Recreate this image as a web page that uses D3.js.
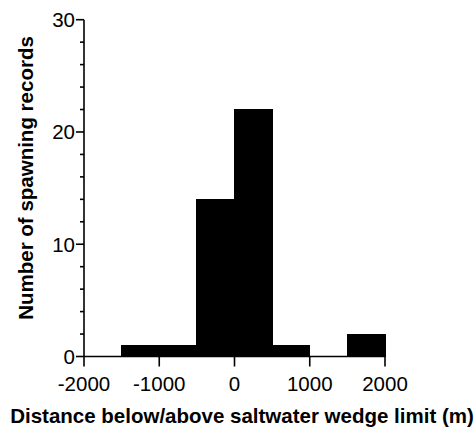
<!DOCTYPE html>
<html><head><meta charset="utf-8">
<script src="https://cdn.jsdelivr.net/npm/d3@7"></script>
<style>body{margin:0;background:#fff}svg{display:block}text{font-family:"Liberation Sans",Arial,sans-serif}</style>
</head><body>
<script>
const binStarts = [-1500, -1000, -500, 0, 500, 1000, 1500];
const binWidth = 500;
const counts = [1, 1, 14, 22, 1, 0, 2];
const xTicks = [-2000, -1000, 0, 1000, 2000];
const yMajor = [0, 10, 20, 30];
const yMinor = [2, 4, 6, 8, 12, 14, 16, 18, 22, 24, 26, 28];
const xTitle = "Distance below/above saltwater wedge limit (m)";
const yTitle = "Number of spawning records";

const W = 475, H = 428;
const svg = d3.select("body").append("svg").attr("width", W).attr("height", H);
const x = d3.scaleLinear().domain([-2000, 2000]).range([84, 385]);
const y = d3.scaleLinear().domain([0, 30]).range([356.5, 19.7]);

svg.append("g").attr("shape-rendering", "crispEdges").selectAll("rect").data(binStarts).join("rect")
  .attr("x", d => x(d)).attr("width", d => x(d + binWidth) - x(d))
  .attr("y", (d, i) => y(counts[i])).attr("height", (d, i) => y(0) - y(counts[i]))
  .attr("fill", "#000").attr("stroke", (d, i) => counts[i] > 0 ? "#000" : "none").attr("stroke-width", 1);

const ax = svg.append("g").attr("stroke", "#000").attr("stroke-width", 1.6).attr("fill", "none");
ax.append("line").attr("x1", x(-2000)).attr("x2", x(2000)).attr("y1", y(0)).attr("y2", y(0));
ax.append("line").attr("x1", x(-2000)).attr("x2", x(-2000)).attr("y1", y(0)).attr("y2", y(30));
ax.selectAll(".xt").data(xTicks).join("line").attr("x1", d => x(d)).attr("x2", d => x(d)).attr("y1", y(0)).attr("y2", y(0) + 10);
ax.selectAll(".ymaj").data(yMajor).join("line").attr("x1", x(-2000) - 8).attr("x2", x(-2000)).attr("y1", d => y(d)).attr("y2", d => y(d));
ax.selectAll(".ymin").data(yMinor).join("line").attr("x1", x(-2000) - 4).attr("x2", x(-2000)).attr("y1", d => y(d)).attr("y2", d => y(d));

svg.selectAll(".xl").data(xTicks).join("text")
  .attr("x", d => x(d)).attr("y", 391).attr("text-anchor", "middle")
  .attr("font-size", 20.5).text(d => d);
svg.selectAll(".yl").data(yMajor).join("text")
  .attr("x", 75).attr("y", d => y(d) + 7.3).attr("text-anchor", "end")
  .attr("font-size", 20.5).text(d => d);

svg.append("text").attr("x", 242).attr("y", 423).attr("text-anchor", "middle")
  .attr("font-size", 20.5).attr("font-weight", "bold").text(xTitle);
svg.append("text").attr("transform", "translate(33,178) rotate(-90)").attr("text-anchor", "middle")
  .attr("font-size", 20.5).attr("font-weight", "bold").text(yTitle);
</script>
</body></html>
